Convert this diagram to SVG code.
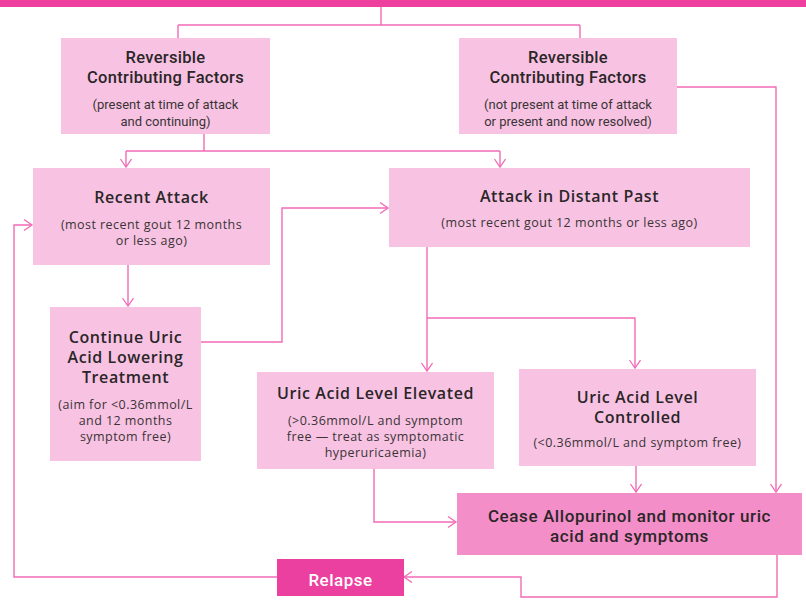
<svg xmlns="http://www.w3.org/2000/svg" width="806" height="602" viewBox="0 0 806 602">
<style>
.box{fill:#f8c3e3}
.cease{fill:#f48ec9}
.relapse{fill:#ec40a0}
.t{font-family:"Open Sans","DejaVu Sans",sans-serif;font-weight:600;font-size:16px;letter-spacing:0.6px;fill:#2b2628;text-anchor:middle}
.s{font-family:"Open Sans","DejaVu Sans",sans-serif;font-size:12.5px;letter-spacing:0.45px;fill:#3a3436;text-anchor:middle}
.n{font-family:"Roboto","Open Sans",sans-serif;font-size:13px;fill:#3a3436;text-anchor:middle}
.nt{font-family:"Roboto","Open Sans",sans-serif;font-weight:500;font-size:16.5px;letter-spacing:0.3px;fill:#2b2628;text-anchor:middle}
.ct{font-family:"Roboto","Open Sans",sans-serif;font-weight:500;font-size:17px;letter-spacing:0.6px;fill:#2b2628;text-anchor:middle}
.w{font-family:"Roboto","Open Sans",sans-serif;font-weight:500;font-size:17px;letter-spacing:0.5px;fill:#ffffff;text-anchor:middle}
.c{fill:none;stroke:#f26bb6;stroke-width:1.4}
</style>
<defs>
<marker id="a" markerUnits="userSpaceOnUse" markerWidth="14" markerHeight="14" refX="9" refY="6" orient="auto">
<path d="M1,0.5 L9,6 L1,11.5" fill="none" stroke="#f26bb6" stroke-width="1.3"/>
</marker>
</defs>
<rect x="0" y="0" width="806" height="7" fill="#ee3f9f"/>
<g id="connectors">
<path class="c" d="M381,7 V25 M178,25 H580 M178,25 V38 M580,25 V38"/>
<path class="c" d="M204,134 V151 M126,151 H500"/>
<path class="c" d="M126,151 V167" marker-end="url(#a)"/>
<path class="c" d="M500,151 V167" marker-end="url(#a)"/>
<path class="c" d="M677,87 H776 V492" marker-end="url(#a)"/>
<path class="c" d="M128,265 V306" marker-end="url(#a)"/>
<path class="c" d="M200,342 H282 V208 H388" marker-end="url(#a)"/>
<path class="c" d="M427,247 V371" marker-end="url(#a)"/>
<path class="c" d="M427,318 H635 V368" marker-end="url(#a)"/>
<path class="c" d="M374,469 V522 H456" marker-end="url(#a)"/>
<path class="c" d="M636,466 V492" marker-end="url(#a)"/>
<path class="c" d="M777,555 V597 H521 V577 H404" marker-end="url(#a)"/>
<path class="c" d="M277,577 H14 V225 H32" marker-end="url(#a)"/>
</g>
<g id="rcf-present">
<rect class="box" x="61" y="38" width="209" height="96"/>
<text class="nt" x="165.5" y="63">Reversible</text>
<text class="nt" x="165.5" y="83">Contributing Factors</text>
<text class="n" x="165.5" y="109">(present at time of attack</text>
<text class="n" x="165.5" y="126">and continuing)</text>
</g>
<g id="rcf-not-present">
<rect class="box" x="459" y="38" width="218" height="96"/>
<text class="nt" x="568" y="63">Reversible</text>
<text class="nt" x="568" y="83">Contributing Factors</text>
<text class="n" x="568" y="109">(not present at time of attack</text>
<text class="n" x="568" y="126">or present and now resolved)</text>
</g>
<g id="recent-attack">
<rect class="box" x="33" y="168" width="237" height="97"/>
<text class="t" x="151.5" y="203">Recent Attack</text>
<text class="s" x="151.5" y="229">(most recent gout 12 months</text>
<text class="s" x="151.5" y="245">or less ago)</text>
</g>
<g id="distant-past">
<rect class="box" x="389" y="168" width="361" height="79"/>
<text class="t" x="569.5" y="202">Attack in Distant Past</text>
<text class="s" x="569.5" y="227">(most recent gout 12 months or less ago)</text>
</g>
<g id="continue">
<rect class="box" x="50" y="307" width="151" height="154"/>
<text class="t" x="125.5" y="343">Continue Uric</text>
<text class="t" x="125.5" y="363">Acid Lowering</text>
<text class="t" x="125.5" y="383">Treatment</text>
<text class="s" x="125.5" y="409">(aim for &lt;0.36mmol/L</text>
<text class="s" x="125.5" y="425">and 12 months</text>
<text class="s" x="125.5" y="441">symptom free)</text>
</g>
<g id="elevated">
<rect class="box" x="257" y="372" width="237" height="97"/>
<text class="t" x="375.5" y="399">Uric Acid Level Elevated</text>
<text class="s" x="375.5" y="425">(&gt;0.36mmol/L and symptom</text>
<text class="s" x="375.5" y="441">free — treat as symptomatic</text>
<text class="s" x="375.5" y="457">hyperuricaemia)</text>
</g>
<g id="controlled">
<rect class="box" x="519" y="369" width="237" height="97"/>
<text class="t" x="637.5" y="403">Uric Acid Level</text>
<text class="t" x="637.5" y="423">Controlled</text>
<text class="s" x="637.5" y="447">(&lt;0.36mmol/L and symptom free)</text>
</g>
<g id="cease">
<rect class="cease" x="457" y="493" width="345" height="62"/>
<text class="ct" x="629.5" y="522">Cease Allopurinol and monitor uric</text>
<text class="ct" x="629.5" y="542">acid and symptoms</text>
</g>
<g id="relapse">
<rect class="relapse" x="277" y="559" width="127" height="37"/>
<text class="w" x="340.5" y="586">Relapse</text>
</g>
</svg>
